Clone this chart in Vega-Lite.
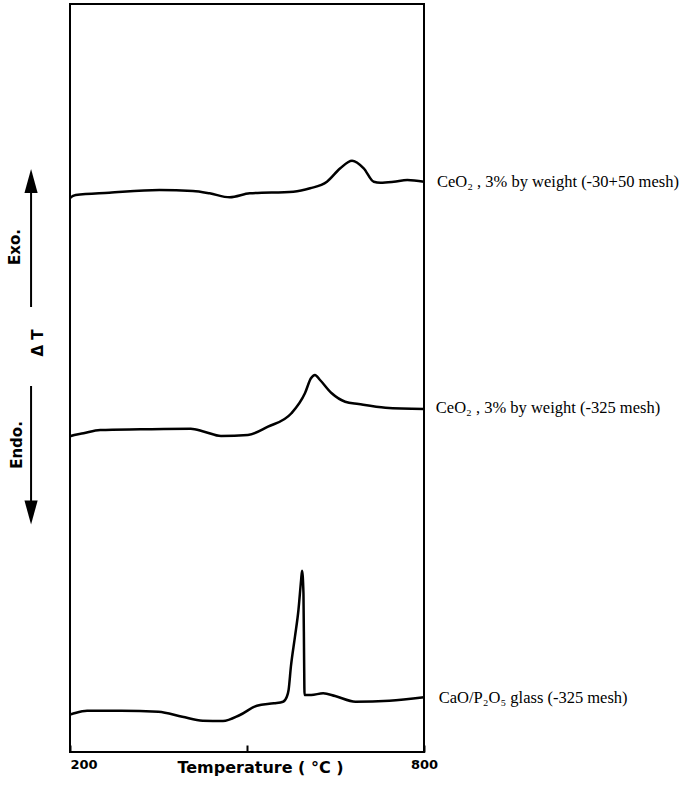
{
  "$schema": "https://vega.github.io/schema/vega-lite/v6.json",
  "width": 354,
  "height": 748,
  "autosize": {"type": "none"},
  "padding": {"left": 70, "top": 4, "right": 259, "bottom": 40},
  "background": "white",
  "config": {"view": {"stroke": "black", "strokeWidth": 2}},
  "datasets": {
    "curves": [
      {"s": "a", "T": 200, "v": 553.5},
      {"s": "a", "T": 201.2, "v": 554.7},
      {"s": "a", "T": 209.7, "v": 557},
      {"s": "a", "T": 266.4, "v": 559.3},
      {"s": "a", "T": 351.6, "v": 562},
      {"s": "a", "T": 408.3, "v": 561},
      {"s": "a", "T": 436.7, "v": 558.7},
      {"s": "a", "T": 470.8, "v": 554.7},
      {"s": "a", "T": 504.8, "v": 558.7},
      {"s": "a", "T": 578.6, "v": 560.3},
      {"s": "a", "T": 607.0, "v": 563.7},
      {"s": "a", "T": 635.5, "v": 570.3},
      {"s": "a", "T": 658.1, "v": 583.7},
      {"s": "a", "T": 678.0, "v": 591.3},
      {"s": "a", "T": 697.8, "v": 583.7},
      {"s": "a", "T": 714.8, "v": 570.3},
      {"s": "a", "T": 726.2, "v": 569.3},
      {"s": "a", "T": 748.9, "v": 570.3},
      {"s": "a", "T": 771.7, "v": 572},
      {"s": "a", "T": 800, "v": 570.3},
      {"s": "b", "T": 200, "v": 315.5},
      {"s": "b", "T": 201.2, "v": 316},
      {"s": "b", "T": 222.9, "v": 318.7},
      {"s": "b", "T": 251.2, "v": 322},
      {"s": "b", "T": 319.4, "v": 322.7},
      {"s": "b", "T": 404.7, "v": 323.3},
      {"s": "b", "T": 427.6, "v": 320.3},
      {"s": "b", "T": 455.9, "v": 316},
      {"s": "b", "T": 501.5, "v": 317},
      {"s": "b", "T": 535.6, "v": 325.3},
      {"s": "b", "T": 575.3, "v": 338.7},
      {"s": "b", "T": 598.2, "v": 358.7},
      {"s": "b", "T": 608.4, "v": 373.7},
      {"s": "b", "T": 615.2, "v": 377},
      {"s": "b", "T": 623.8, "v": 372},
      {"s": "b", "T": 643.6, "v": 358.7},
      {"s": "b", "T": 666.4, "v": 350.3},
      {"s": "b", "T": 689.1, "v": 348},
      {"s": "b", "T": 734.7, "v": 344.3},
      {"s": "b", "T": 800, "v": 343},
      {"s": "c", "T": 200, "v": 37.5},
      {"s": "c", "T": 203.1, "v": 38},
      {"s": "c", "T": 229.0, "v": 41.3},
      {"s": "c", "T": 286.7, "v": 41.3},
      {"s": "c", "T": 349.9, "v": 40.3},
      {"s": "c", "T": 390.3, "v": 35.3},
      {"s": "c", "T": 424.8, "v": 31.3},
      {"s": "c", "T": 459.3, "v": 31},
      {"s": "c", "T": 488.0, "v": 37},
      {"s": "c", "T": 516.8, "v": 46.3},
      {"s": "c", "T": 545.7, "v": 48.7},
      {"s": "c", "T": 561.1, "v": 50.3},
      {"s": "c", "T": 567.5, "v": 55.3},
      {"s": "c", "T": 570.5, "v": 62},
      {"s": "c", "T": 574.4, "v": 85.3},
      {"s": "c", "T": 581.3, "v": 115.3},
      {"s": "c", "T": 587.2, "v": 142},
      {"s": "c", "T": 591.7, "v": 172},
      {"s": "c", "T": 593.3, "v": 181.3},
      {"s": "c", "T": 595.7, "v": 158.7},
      {"s": "c", "T": 596.8, "v": 92},
      {"s": "c", "T": 597.5, "v": 57},
      {"s": "c", "T": 608.9, "v": 57},
      {"s": "c", "T": 629.1, "v": 58.7},
      {"s": "c", "T": 649.3, "v": 56},
      {"s": "c", "T": 683.8, "v": 50.3},
      {"s": "c", "T": 741.3, "v": 51.3},
      {"s": "c", "T": 800, "v": 54.7}
    ],
    "labels": [
      {"T": 822, "v": 570.3, "text": "CeO₂ , 3% by weight (-30+50 mesh)"},
      {"T": 820, "v": 344, "text": "CeO₂ , 3% by weight (-325 mesh)"},
      {"T": 825, "v": 54, "text": "CaO/P₂O₅ glass (-325 mesh)"}
    ],
    "side": [
      {"T": 107, "v": 505, "text": "Exo."},
      {"T": 145, "v": 409, "text": "Δ T"},
      {"T": 110, "v": 307, "text": "Endo."}
    ],
    "shafts": [
      {"T": 134, "v": 445, "v2": 575},
      {"T": 134, "v": 366, "v2": 245}
    ],
    "heads": [
      {"T": 134, "v": 571, "dir": "up"},
      {"T": 134, "v": 239.5, "dir": "down"}
    ]
  },
  "layer": [
    {
      "data": {"name": "curves"},
      "mark": {"type": "line", "interpolate": "monotone", "color": "black", "strokeWidth": 2.5},
      "encoding": {
        "x": {
          "field": "T",
          "type": "quantitative",
          "scale": {"domain": [200, 800], "nice": false, "zero": false},
          "axis": {
            "values": [200, 500, 800],
            "labelExpr": "datum.value == 500 ? '' : datum.label",
            "title": "Temperature ( °C )",
            "domain": false,
            "grid": false,
            "tickSize": -7,
            "tickWidth": 2,
            "tickColor": "black",
            "labelFlush": false,
            "labelOverlap": false,
            "labelFont": "DejaVu Sans",
            "labelFontWeight": "bold",
            "labelFontSize": 13,
            "labelColor": "black",
            "labelPadding": 23,
            "labelBaseline": "alphabetic",
            "labelAlign": {"condition": {"test": "datum.value == 200", "value": "left"}, "value": "center"},
            "titleFont": "DejaVu Sans",
            "titleFontWeight": "bold",
            "titleFontSize": 16,
            "titleColor": "black",
            "titleX": 190,
            "titleY": 20,
            "titleBaseline": "alphabetic"
          }
        },
        "y": {
          "field": "v",
          "type": "quantitative",
          "scale": {"domain": [0, 748], "nice": false, "zero": false},
          "axis": null
        },
        "detail": {"field": "s"},
        "order": {"field": "T", "type": "quantitative"}
      }
    },
    {
      "data": {"name": "labels"},
      "mark": {"type": "text", "align": "left", "baseline": "middle", "font": "Liberation Serif", "fontSize": 16.5, "color": "black"},
      "encoding": {
        "x": {"field": "T", "type": "quantitative"},
        "y": {"field": "v", "type": "quantitative"},
        "text": {"field": "text"}
      }
    },
    {
      "data": {"name": "side"},
      "mark": {"type": "text", "align": "center", "baseline": "middle", "angle": 270, "font": "DejaVu Sans", "fontWeight": "bold", "fontSize": 15, "color": "black"},
      "encoding": {
        "x": {"field": "T", "type": "quantitative"},
        "y": {"field": "v", "type": "quantitative"},
        "text": {"field": "text"}
      }
    },
    {
      "data": {"name": "shafts"},
      "mark": {"type": "rule", "color": "black", "strokeWidth": 2},
      "encoding": {
        "x": {"field": "T", "type": "quantitative"},
        "y": {"field": "v", "type": "quantitative"},
        "y2": {"field": "v2"}
      }
    },
    {
      "data": {"name": "heads"},
      "mark": {"type": "point", "filled": true, "color": "black", "opacity": 1, "size": 576, "strokeWidth": 0},
      "encoding": {
        "x": {"field": "T", "type": "quantitative"},
        "y": {"field": "v", "type": "quantitative"},
        "shape": {
          "field": "dir",
          "type": "nominal",
          "scale": {"domain": ["up", "down"], "range": ["M-0.55,1L0,-1L0.55,1Z", "M-0.55,-1L0,1L0.55,-1Z"]},
          "legend": null
        }
      }
    }
  ]
}
